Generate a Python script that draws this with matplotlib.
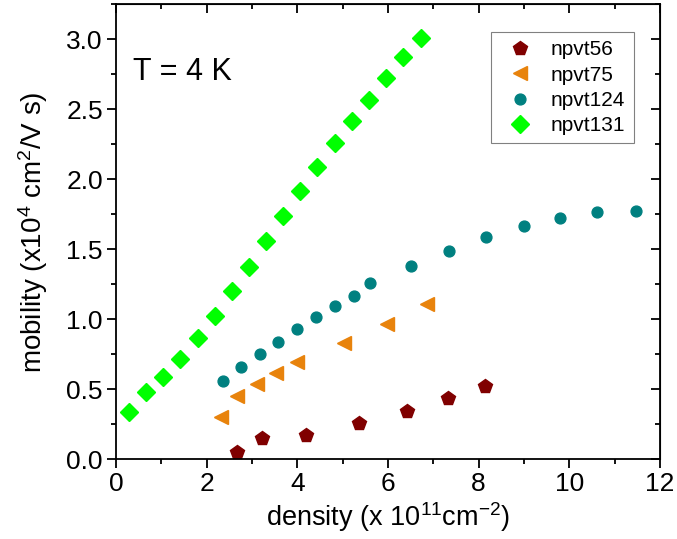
import numpy as np
import matplotlib
matplotlib.use("Agg")
import matplotlib.pyplot as plt
from matplotlib.ticker import MultipleLocator

plt.rcParams['font.family'] = ['Liberation Sans', 'DejaVu Sans']
plt.rcParams['mathtext.fontset'] = 'custom'
plt.rcParams['mathtext.rm'] = 'Liberation Sans'
plt.rcParams['mathtext.it'] = 'Liberation Sans:italic'

# data (density in 1e11 cm^-2, mobility in 1e4 cm^2/Vs)
n56 = [2.66, 3.23, 4.19, 5.37, 6.43, 7.32, 8.14]
mu56 = [0.055, 0.15, 0.175, 0.258, 0.345, 0.44, 0.524]

n75 = [2.32, 2.68, 3.10, 3.54, 4.00, 5.04, 5.98, 6.86]
mu75 = [0.30, 0.455, 0.536, 0.617, 0.693, 0.829, 0.967, 1.11]

n124 = [2.35, 2.75, 3.17, 3.58, 4.00, 4.42, 4.83, 5.25, 5.61, 6.51,
        7.35, 8.17, 8.99, 9.80, 10.62, 11.47]
mu124 = [0.562, 0.662, 0.752, 0.840, 0.929, 1.014, 1.093, 1.169, 1.257, 1.379,
         1.488, 1.586, 1.667, 1.721, 1.769, 1.771]

n131 = [0.28, 0.67, 1.04, 1.41, 1.80, 2.18, 2.55, 2.93, 3.30, 3.68,
        4.06, 4.44, 4.83, 5.21, 5.59, 5.96, 6.34, 6.72]
mu131 = [0.34, 0.48, 0.585, 0.72, 0.865, 1.025, 1.20, 1.375, 1.56, 1.74,
         1.915, 2.085, 2.26, 2.42, 2.57, 2.725, 2.875, 3.01]

fig = plt.figure(figsize=(6.77, 5.39), dpi=100)
ax = fig.add_axes([116/677, 1-459.3/539, 544/677, 455/539])

ax.plot(n56, mu56, ls='none', marker='p', ms=10.5, color='#800000', mec='#800000', label='npvt56')
ax.plot(n75, mu75, ls='none', marker='<', ms=10, color='#E8830C', mec='#E8830C', label='npvt75')
ax.plot(n124, mu124, ls='none', marker='o', ms=7.8, color='#008080', mec='#008080', label='npvt124')
ax.plot(n131, mu131, ls='none', marker='D', ms=8.8, color='#00FF00', mec='#00FF00', label='npvt131')

ax.set_xlim(0, 12)
ax.set_ylim(0, 3.25)
ax.xaxis.set_major_locator(MultipleLocator(2))
ax.xaxis.set_minor_locator(MultipleLocator(1))
ax.yaxis.set_major_locator(MultipleLocator(0.5))
ax.yaxis.set_minor_locator(MultipleLocator(0.25))
ax.yaxis.set_major_formatter(matplotlib.ticker.FormatStrFormatter('%.1f'))

for s in ax.spines.values():
    s.set_linewidth(1.3)
ax.tick_params(which='both', direction='out', width=1.3, labelsize=19, pad=3)
ax.tick_params(which='major', length=6.5)
ax.tick_params(which='minor', length=3.6)

# mirrored ticks pointing inward on top and right
axt = ax.secondary_xaxis('top')
axt.xaxis.set_major_locator(MultipleLocator(2))
axt.xaxis.set_minor_locator(MultipleLocator(1))
axt.tick_params(which='both', direction='in', width=1.3, labeltop=False)
axt.tick_params(which='major', length=6.5)
axt.tick_params(which='minor', length=3.6)
axr = ax.secondary_yaxis('right')
axr.yaxis.set_major_locator(MultipleLocator(0.5))
axr.yaxis.set_minor_locator(MultipleLocator(0.25))
axr.tick_params(which='both', direction='in', width=1.3, labelright=False)
axr.tick_params(which='major', length=6.5)
axr.tick_params(which='minor', length=3.6)

ax.set_xlabel(r'density (x 10$^{11}$cm$^{-2}$)', fontsize=19.5)
ax.set_ylabel(r'mobility (x10$^4$ cm$^2$/V s)', fontsize=20)
ax.xaxis.set_label_coords(0.5, -0.09)
ax.yaxis.set_label_coords(-0.122, 0.5)

ax.text(0.031, 0.834, 'T = 4 K', transform=ax.transAxes, fontsize=22, va='baseline')

leg = ax.legend(loc='upper right', bbox_to_anchor=(0.952, 0.939), borderaxespad=0,
                fontsize=15, fancybox=False, edgecolor='#808080', framealpha=1,
                handletextpad=0.5, labelspacing=0.3, borderpad=0.4, handlelength=2.0)
leg.get_frame().set_linewidth(0.8)

fig.savefig('out.png', dpi=100)
